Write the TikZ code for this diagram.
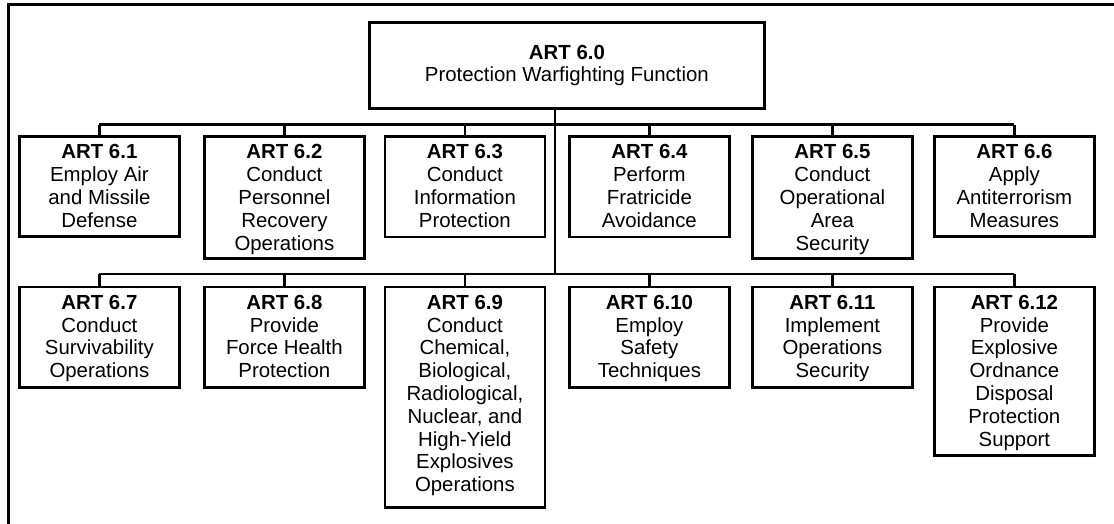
\documentclass[tikz,border=0pt]{standalone}
\usepackage{fontspec}
\setmainfont{Liberation Sans}
\begin{document}
\begin{tikzpicture}[x=1pt,y=-1pt,
  frameline/.style={line width=3pt},
  wire/.style={line width=2.8pt},
  artbox/.style={draw, rectangle, line width=2.8pt, minimum width=160pt,
    inner sep=0pt, anchor=north west},
  arttext/.style={align=center, inner sep=0pt, anchor=north,
    font=\fontsize{20.4}{22.8}\selectfont},
]
\useasboundingbox (0,0) rectangle (1114,523);
\clip (0,0) rectangle (1114,523);

% outer frame (runs off the page on the right and at the bottom)
\draw[frameline] (8,4) rectangle (1130,540);

% root box
\node[draw, rectangle, line width=2.8pt, minimum width=395pt, minimum height=86pt,
  inner sep=0pt, anchor=north west, align=center,
  font=\fontsize{20.4}{22}\selectfont] (b60) at (368,21)
  {\textbf{ART 6.0}\\Protection Warfighting Function};

% first row of tasks
\node[artbox, minimum height=100pt]   (b61) at (18,135)    {};
\node[artbox, minimum height=122pt]   (b62) at (203,135)   {};
\node[artbox, minimum height=100.5pt] (b63) at (383.5,135) {};
\node[artbox, minimum height=100.5pt] (b64) at (568,135)   {};
\node[artbox, minimum height=122pt]   (b65) at (751,135)   {};
\node[artbox, minimum height=100pt]   (b66) at (933,135)   {};

% second row of tasks
\node[artbox, minimum height=100.5pt] (b67)  at (18,285.5)    {};
\node[artbox, minimum height=100.5pt] (b68)  at (203,285.5)   {};
\node[artbox, minimum height=220.5pt] (b69)  at (383.5,285.5) {};
\node[artbox, minimum height=100.5pt] (b610) at (568,285.5)   {};
\node[artbox, minimum height=100.5pt] (b611) at (751,285.5)   {};
\node[artbox, minimum height=168.5pt] (b612) at (933,285.5)   {};

% box texts, hung from the top edge of each box
\node[arttext] (t61) at ([yshift=-9.4pt]b61.north) {\textbf{ART 6.1}\\Employ Air\\and Missile\\Defense};
\node[arttext] (t62) at ([yshift=-9.4pt]b62.north) {\textbf{ART 6.2}\\Conduct\\Personnel\\Recovery\\Operations};
\node[arttext] (t63) at ([yshift=-9.4pt]b63.north) {\textbf{ART 6.3}\\Conduct\\Information\\Protection};
\node[arttext] (t64) at ([yshift=-9.4pt]b64.north) {\textbf{ART 6.4}\\Perform\\Fratricide\\Avoidance};
\node[arttext] (t65) at ([yshift=-9.4pt]b65.north) {\textbf{ART 6.5}\\Conduct\\Operational\\Area\\Security};
\node[arttext] (t66) at ([yshift=-9.4pt]b66.north) {\textbf{ART 6.6}\\Apply\\Antiterrorism\\Measures};

\node[arttext] (t67)  at ([yshift=-9.4pt]b67.north)  {\textbf{ART 6.7}\\Conduct\\Survivability\\Operations};
\node[arttext] (t68)  at ([yshift=-9.4pt]b68.north)  {\textbf{ART 6.8}\\Provide\\Force Health\\Protection};
\node[arttext] (t69)  at ([yshift=-9.4pt]b69.north)  {\textbf{ART 6.9}\\Conduct\\Chemical,\\Biological,\\Radiological,\\Nuclear, and\\High-Yield\\Explosives\\Operations};
\node[arttext] (t610) at ([yshift=-9.4pt]b610.north) {\textbf{ART 6.10}\\Employ\\Safety\\Techniques};
\node[arttext] (t611) at ([yshift=-9.4pt]b611.north) {\textbf{ART 6.11}\\Implement\\Operations\\Security};
\node[arttext] (t612) at ([yshift=-9.4pt]b612.north) {\textbf{ART 6.12}\\Provide\\Explosive\\Ordnance\\Disposal\\Protection\\Support};

% junctions on the trunk
\coordinate (j1) at (555,124.7);
\coordinate (j2) at (555,274);

% trunk and the two bus lines
\draw[wire] (b60.south -| j1) -- (j2);
\draw[wire] (b61.north |- j1) -- (b66.north |- j1);
\draw[wire] (b67.north |- j2) -- (b612.north |- j2);

% drops to each box
\foreach \b in {b61,b62,b63,b64,b65,b66}
  \draw[wire] (\b.north |- j1) -- (\b.north);
\foreach \b in {b67,b68,b69,b610,b611,b612}
  \draw[wire] (\b.north |- j2) -- (\b.north);
\end{tikzpicture}
\end{document}
